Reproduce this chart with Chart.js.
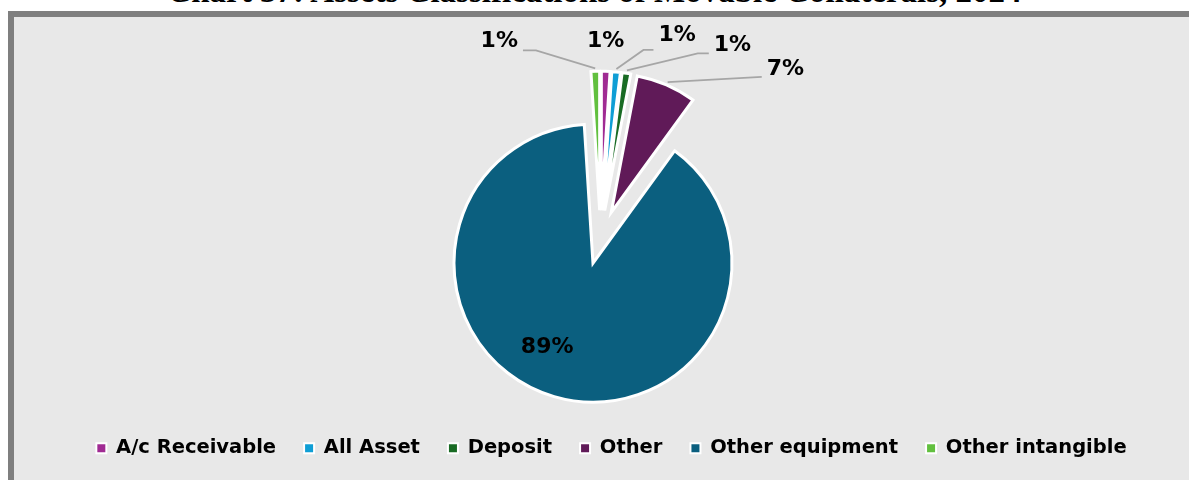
<!DOCTYPE html>
<html>
<head>
<meta charset="utf-8">
<title>Assets Classifications of Movable Collaterals, 2024</title>
<script src="https://cdn.jsdelivr.net/npm/chart.js@4"></script>
<style>
  html, body { margin: 0; padding: 0; background: #fff; overflow: hidden; width: 1189px; height: 480px; }
  #chart-title {
    position: absolute; left: 0; top: -25px; width: 1189px;
    text-align: center; white-space: nowrap; color: #000;
    font: bold 33px/33px "Liberation Serif", "Times New Roman", serif;
  }
  #chart-panel {
    position: absolute; left: 8px; top: 11px; width: 1200px; height: 480px;
    border-top: 6px solid #7f7f7f; border-left: 6px solid #7f7f7f; background: #e8e8e8;
  }
  #chart-box { position: absolute; left: 0; top: 0; width: 1175px; height: 463px; }
</style>
</head>
<body>
<div id="chart-title">Chart 37: Assets Classifications of Movable Collaterals, 2024</div>
<div id="chart-panel">
  <div id="chart-box"><canvas id="collateralChart"></canvas></div>
</div>
<script>
const categories = ['A/c Receivable', 'All Asset', 'Deposit', 'Other', 'Other equipment', 'Other intangible'];
const shares = [1, 1, 1, 7, 89, 1];
const sliceColors = ['#a02b93', '#0f9ed5', '#196b24', '#601a58', '#0b5f7f', '#62c03f'];

// where each percentage sits, measured from the slice's outer edge
const labelOffsets = [[0, -30], [61, -37], [106, -28], [119, -16], [-7, -49], [-96, -30]];
// leader lines: [drop below label centre, horizontal tail length], null = none
const leaders = [null, [15, 10], [8, 11], [8, 0], null, [9, 13]];

const EXPLODE = 27;   // every slice pulled out from the centre
const SHIFT_X = -11;  // pie sits a little left of the legend centre
const LABEL_FONT = 'bold 22px "DejaVu Sans", sans-serif';

// pull each arc out along its bisector (Chart.js offset also shrinks thin slices)
const ArcEl = Chart.ArcElement || Chart.elements.ArcElement;
const baseArcDraw = ArcEl.prototype.draw;
ArcEl.prototype.draw = function (ctx) {
    const mid = (this.startAngle + this.endAngle) / 2;
    ctx.save();
    ctx.translate(Math.cos(mid) * EXPLODE, Math.sin(mid) * EXPLODE);
    baseArcDraw.call(this, ctx);
    ctx.restore();
};

const centreShift = {
    id: 'centreShift',
    afterLayout(chart) {
        chart.chartArea.left += SHIFT_X;
        chart.chartArea.right += SHIFT_X;
    }
};

const sliceLabels = {
    id: 'sliceLabels',
    afterDatasetsDraw(chart) {
        const ctx = chart.ctx;
        const arcs = chart.getDatasetMeta(0).data;
        ctx.save();
        ctx.font = LABEL_FONT;
        ctx.textAlign = 'center';
        ctx.textBaseline = 'middle';
        arcs.forEach((arc, i) => {
            const mid = (arc.startAngle + arc.endAngle) / 2;
            const r = arc.outerRadius + EXPLODE;
            const ex = arc.x + Math.cos(mid) * r;
            const ey = arc.y + Math.sin(mid) * r;
            const lx = ex + labelOffsets[i][0];
            const ly = ey + labelOffsets[i][1];
            const text = shares[i] + '%';

            if (leaders[i]) {
                const half = ctx.measureText(text).width / 2 + 5;
                const side = lx > ex ? -1 : 1;
                const endX = lx + side * half;
                const endY = ly + leaders[i][0];
                const elbowX = endX + side * leaders[i][1];
                ctx.beginPath();
                ctx.moveTo(arc.x + Math.cos(mid) * (r + 3), arc.y + Math.sin(mid) * (r + 3));
                ctx.lineTo(elbowX, endY);
                ctx.lineTo(endX, endY);
                ctx.strokeStyle = '#a6a6a6';
                ctx.lineWidth = 1.75;
                ctx.stroke();
            }
            ctx.fillStyle = '#000';
            ctx.fillText(text, lx, ly);
        });
        ctx.restore();
    }
};

const pieDefaults = Chart.overrides.pie || Chart.overrides.doughnut;

new Chart(document.getElementById('collateralChart'), {
    type: 'pie',
    data: {
        labels: categories,
        datasets: [{
            data: shares,
            backgroundColor: sliceColors,
            borderColor: '#fff',
            borderWidth: 3,
            borderJoinStyle: 'miter',
            radius: 139
        }]
    },
    options: {
        responsive: true,
        maintainAspectRatio: false,
        animation: false,
        events: [],
        devicePixelRatio: 1,
        layout: { padding: { left: 30, right: 10, top: 47, bottom: 12 } },
        plugins: {
            tooltip: { enabled: false },
            legend: {
                position: 'bottom',
                align: 'center',
                labels: {
                    boxWidth: 10,
                    boxHeight: 10,
                    padding: 28,
                    color: '#000',
                    font: { family: '"DejaVu Sans"', weight: 'bold', size: 19.5 },
                    generateLabels(chart) {
                        const items = pieDefaults.plugins.legend.labels.generateLabels(chart);
                        items.forEach(item => { item.lineWidth = 2; });
                        return items;
                    }
                }
            }
        }
    },
    plugins: [centreShift, sliceLabels]
});
</script>
</body>
</html>
